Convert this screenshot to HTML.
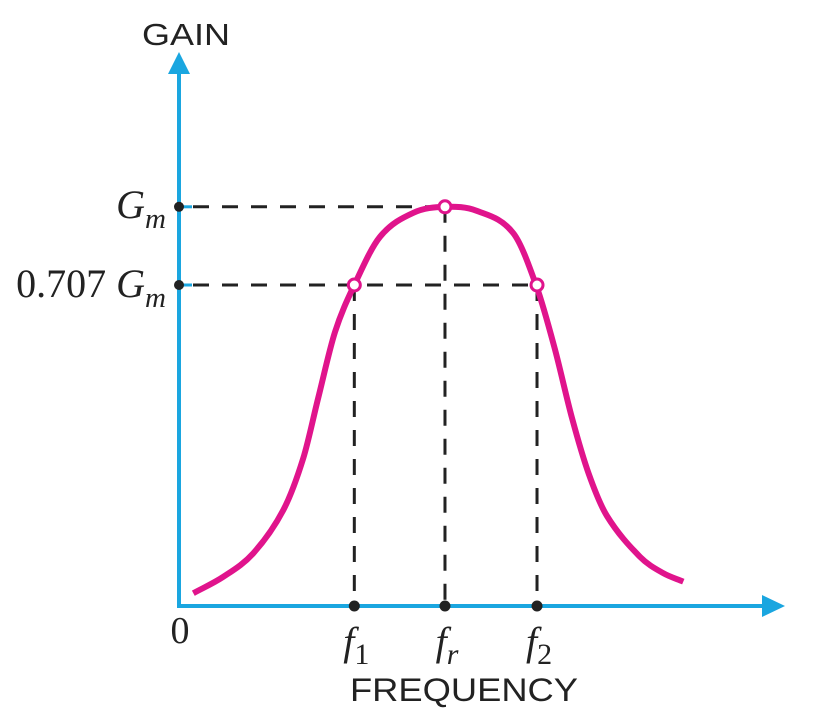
<!DOCTYPE html>
<html><head><meta charset="utf-8">
<style>
html,body{margin:0;padding:0;background:#fff;width:821px;height:715px;overflow:hidden}
svg{display:block}
.serif{font-family:"Liberation Serif",serif}
.sans{font-family:"Liberation Sans",sans-serif}
</style></head>
<body>
<svg id="chart" width="821" height="715" viewBox="0 0 821 715">
  <g id="guides"></g>
  <line x1="179" y1="606" x2="179" y2="70" stroke="#1aa6e0" stroke-width="4"/>
  <polygon points="168,74 190,74 179,52" fill="#1aa6e0"/>
  <line x1="177" y1="606" x2="765" y2="606" stroke="#1aa6e0" stroke-width="4"/>
  <polygon points="762,595 762,617 785,606" fill="#1aa6e0"/>
  <text class="sans" x="142" y="45" font-size="31" textLength="88" lengthAdjust="spacingAndGlyphs" fill="#222">GAIN</text>
  <text class="sans" x="350" y="701" font-size="32" textLength="228" lengthAdjust="spacingAndGlyphs" fill="#222">FREQUENCY</text>
  <text class="serif" x="180" y="643" font-size="38" text-anchor="middle" fill="#222">0</text>
  <g id="ylabels">
    <text class="serif" x="166" y="218" font-size="40" text-anchor="end" font-style="italic" fill="#222">G<tspan font-size="29" dy="10">m</tspan></text>
    <text class="serif" x="166" y="297" font-size="40" text-anchor="end" fill="#222">0.707 <tspan font-style="italic">G</tspan><tspan font-style="italic" font-size="29" dy="10">m</tspan></text>
  </g>
  <g id="xlabels"></g>
  <path id="curve" fill="none" stroke="#e0148c" stroke-width="6" stroke-linecap="butt"/>
  <g id="marks"></g>
</svg>
<script>
const curveFreq = [2.39, 7.39, 12.39, 17.39, 20.72, 23.2, 26.0, 29.22, 33.5, 39.06, 44.33, 49.61, 55.72, 59.61, 62.6, 65.5, 68.3, 71.33, 76.83, 80.72, 84.05];
const curveGain = [0.032, 0.073, 0.132, 0.24, 0.37, 0.52, 0.685, 0.8025, 0.923, 0.983, 0.998, 0.988, 0.932, 0.798, 0.645, 0.47, 0.33, 0.225, 0.123, 0.082, 0.061];
const keyNames = ["f1", "fr", "f2"];
const keyFreq = [29.22, 44.33, 59.67];
const keyGain = [0.8025, 0.998, 0.8025];
const levelGain = [0.998, 0.8025];

const NS = "http://www.w3.org/2000/svg";
const xS = f => 179 + f * 6;
const yS = g => 606 - g * 400;

const px = curveFreq.map(xS), py = curveGain.map(yS);
const n = px.length;
const m = px.map((_, i) => {
  const a = Math.max(0, i - 1), b = Math.min(n - 1, i + 1);
  return (py[b] - py[a]) / (px[b] - px[a]);
});
let d = "M" + px[0] + "," + py[0];
for (let i = 0; i < n - 1; i++) {
  const h = (px[i + 1] - px[i]) / 3;
  d += " C" + (px[i] + h) + "," + (py[i] + m[i] * h) + " " + (px[i + 1] - h) + "," + (py[i + 1] - m[i + 1] * h) + " " + px[i + 1] + "," + py[i + 1];
}
document.getElementById("curve").setAttribute("d", d);

function mk(tag, attrs, parent) {
  const e = document.createElementNS(NS, tag);
  for (const k in attrs) e.setAttribute(k, attrs[k]);
  parent.appendChild(e);
  return e;
}
const guides = document.getElementById("guides");
const marks = document.getElementById("marks");
const xl = document.getElementById("xlabels");

levelGain.forEach((g, i) => {
  const xEnd = Math.max(...keyFreq.filter((f, j) => Math.abs(keyGain[j] - g) < 1e-6).map(xS));
  const l = mk("line", {x1: 193, y1: yS(g), x2: xEnd, y2: yS(g), stroke: "#222", "stroke-width": 3, "stroke-dasharray": "16 13"}, guides);
  
  
  const t = mk("line", {x1: 179, y1: yS(g), x2: 192, y2: yS(g), stroke: "#1aa6e0", "stroke-width": 3}, guides);
  
  
  const c = mk("circle", {cx: 179, cy: yS(g), r: 5, fill: "#222"}, marks);
  
  
});

const subs = ["1", "r", "2"];
keyFreq.forEach((f, i) => {
  const x = xS(f), y = yS(keyGain[i]);
  const l = mk("line", {x1: x, y1: y, x2: x, y2: 600, stroke: "#222", "stroke-width": 3, "stroke-dasharray": "16 13"}, guides);
  
  
  const dot = mk("circle", {cx: x, cy: 606, r: 5.5, fill: "#222"}, marks);
  
  
  const o = mk("circle", {cx: x, cy: y, r: 6, fill: "#fff", stroke: "#e0148c", "stroke-width": 3}, marks);
  
  
  const t = mk("text", {x: x + 2, y: 655, "font-size": 40, "text-anchor": "middle", fill: "#222", "class": "serif"}, xl);
  
  
  t.innerHTML = '<tspan font-style="italic">f</tspan><tspan font-size="30" dy="9"' + (subs[i] === "r" ? ' font-style="italic"' : '') + '>' + subs[i] + '</tspan>';
});
</script>
</body></html>
